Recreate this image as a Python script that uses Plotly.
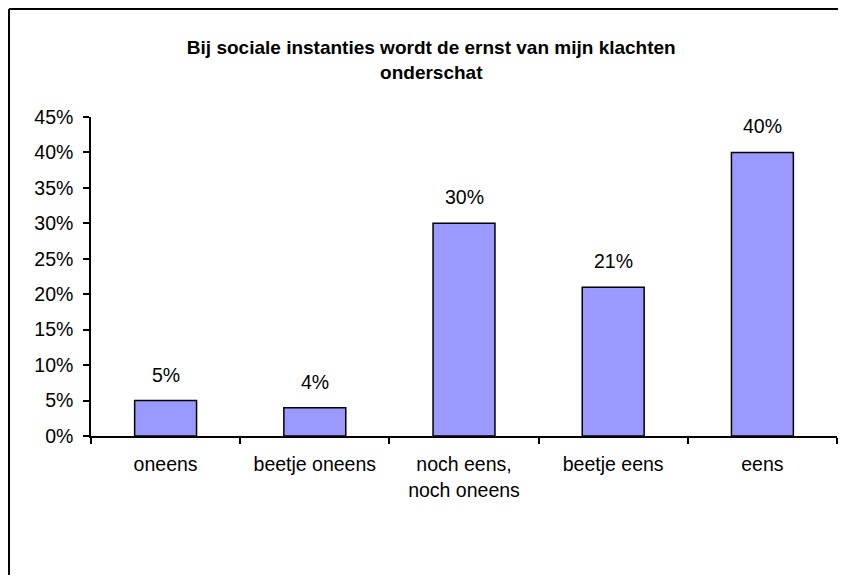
import plotly.graph_objects as go

categories = ["oneens", "beetje oneens", "noch eens,<br>noch oneens", "beetje eens", "eens"]
values = [0.05, 0.04, 0.30, 0.21, 0.40]
value_labels = ["5%", "4%", "30%", "21%", "40%"]
y_ticks = [0, 0.05, 0.10, 0.15, 0.20, 0.25, 0.30, 0.35, 0.40, 0.45]
title_text = "Bij sociale instanties wordt de ernst van mijn klachten<br>onderschat"

FONT = "Liberation Sans, Arial, sans-serif"

fig = go.Figure()
fig.add_trace(go.Bar(
    x=categories,
    y=values,
    marker=dict(color="#9999ff", line=dict(color="black", width=1.5)),
    width=0.415,
    showlegend=False,
))

for cat, val, lab in zip(categories, values, value_labels):
    fig.add_annotation(
        x=cat, y=val, text=lab, showarrow=False,
        yanchor="bottom", yshift=13,
        font=dict(family=FONT, size=19.5, color="black"),
    )

# outer chart frame: only the top and left edges are in view in the reference
frame = dict(color="black", width=2)
fig.add_shape(type="line", xref="paper", yref="paper",
              x0=-0.1099, x1=1.3, y0=1.3386, y1=1.3386, line=frame)
fig.add_shape(type="line", xref="paper", yref="paper",
              x0=-0.1099, x1=-0.1099, y0=-1.0, y1=1.3386, line=frame)

# page body has an 8px margin, so the figure is sized to fit the window without scrollbars
fig.update_layout(
    width=830, height=567,
    margin=dict(l=83, r=1, t=109, b=139),
    plot_bgcolor="white",
    paper_bgcolor="white",
    font=dict(family=FONT, size=19.5, color="black"),
    title=dict(
        text=title_text, x=0.51, xanchor="center", xref="container",
        y=0.919, yref="container", yanchor="middle",
        font=dict(family=FONT, size=19, color="black", weight="bold"),
    ),
    xaxis=dict(
        showline=True, linecolor="black", linewidth=1.5,
        ticks="outside", ticklen=6, tickcolor="black", tickwidth=1.5,
        tickson="boundaries", showgrid=False, ticklabelstandoff=10,
        tickfont=dict(family=FONT, size=19.5),
    ),
    yaxis=dict(
        range=[0, 0.45], tickvals=y_ticks, tickformat=".0%",
        showline=True, linecolor="black", linewidth=1.5,
        ticks="outside", ticklen=6, tickcolor="black", tickwidth=1.5,
        showgrid=False, zeroline=False, ticklabelstandoff=6,
        tickfont=dict(family=FONT, size=19.5),
    ),
    bargap=0.585,
)

fig.write_html("out.html")
